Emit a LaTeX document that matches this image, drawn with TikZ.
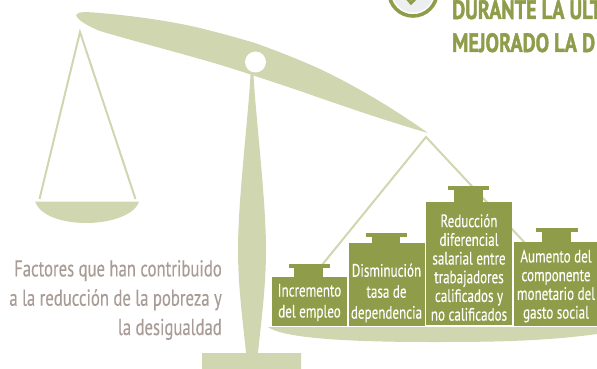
\documentclass[tikz,border=0pt]{standalone}
\usepackage{fontspec}
\setmainfont{PT Sans}
\newfontfamily\cond[FakeStretch=0.725,FakeBold=0.25]{PT Sans}
\newfontfamily\condb[FakeStretch=0.76,FakeBold=1.5]{PT Sans Bold}
\definecolor{pale}{HTML}{CFD6B0}
\definecolor{olive}{HTML}{8F9C4A}
\definecolor{greybrown}{HTML}{A99C96}
\definecolor{icon}{HTML}{ECEEEF}
\tikzset{
  pale shape/.style={fill=pale,draw=none},
  weight/.style={fill=olive,draw=none},
  cord/.style={draw=pale,line width=2pt},
  wlabel/.style={text=white,font=\cond\fontsize{18}{18.7}\selectfont,align=center,inner sep=0pt},
  wlabelwide/.style={wlabel,font=\cond\fontsize{18}{21}\selectfont},
  side/.style={text=greybrown,font=\cond\fontsize{23}{29.3}\selectfont,align=right,inner sep=0pt},
  head/.style={text=olive,font=\condb\fontsize{26.5}{32}\selectfont,anchor=base west,inner sep=0pt}
}
\begin{document}
\begin{tikzpicture}[x=1pt,y=-1pt]
\useasboundingbox (0,0) rectangle (597,369);
\clip (0,0) rectangle (597,369);
% icon
\draw[olive,line width=3.6pt] (413,-8) circle (24);
\fill[icon] (413,-8) circle (20.5);
\draw[olive,line width=3pt] (405,-4) -- (411,3) -- (420,-6);
% heading
\node[head] (h1) at (452,19) {DURANTE LA ULT};
\node[head] (h2) at (452,52) {MEJORADO LA D};
% coordinates
\coordinate (la) at (80,32);
\coordinate (ll) at (39.5,199);
\coordinate (lr) at (135.5,199);
\coordinate (ra) at (426,137);
\coordinate (rl) at (322,265);
\coordinate (rr) at (525,243);
% cords
\draw[cord] (ll) -- (la) -- (lr);
\draw[cord] (rl) -- (ra) -- (rr);
% post
\path[pale shape] (250.5,75) -- (253.5,75) .. controls (256,120) and (266,200) .. (266,250)
  .. controls (266,290) and (260,330) .. (258,353) -- (301,353) -- (301,369) -- (202,369) -- (202,353) -- (246,353)
  .. controls (244,330) and (238,290) .. (238,250) .. controls (238,200) and (248,120) .. (250.5,75) -- cycle;
% beam
\path[pale shape] (76,15) .. controls (78,11) and (88,12) .. (100,13)
  .. controls (135,16) and (170,21) .. (200,28)
  .. controls (220,33) and (238,38) .. (255,43)
  .. controls (280,52) and (300,60) .. (320,69)
  .. controls (360,88) and (400,113) .. (428,133)
  .. controls (390,122) and (355,110) .. (320,98)
  .. controls (298,90) and (276,83) .. (255,76)
  .. controls (237,70) and (218,64) .. (200,59)
  .. controls (165,49) and (130,40) .. (100,31)
  .. controls (90,27) and (78,21) .. (76,15) -- cycle;
\fill[white] (255.5,62) circle (10.5);
% pans
\path[pale shape] (35,201.5) -- (139,201.5) .. controls (135,215) and (110,223) .. (87,223)
  .. controls (60,223) and (40,215) .. (35,201.5) -- cycle;
\path[pale shape] (268,327) -- (597,327) -- (597,334) .. controls (540,342) and (480,342) .. (430,342)
  .. controls (370,342) and (285,340) .. (268,327) -- cycle;
% weights
\newcommand{\wgt}[9]{%
  \fill[weight] (#1,#5) rectangle (#2,#6);
  \fill[weight] (#3,#7) rectangle (#4,#5);
  \fill[weight] (#8,#7) rectangle (#9,#7+3.5);
}
\wgt{272}{347}{294}{323}{277}{326}{264}{289}{330}
\wgt{349}{425}{372}{400}{243}{326}{233}{366}{407}
\wgt{426}{512}{454}{483}{202}{325}{186}{448}{489}
\wgt{514}{597}{542}{571}{242}{326}{228}{536}{578}
\node[wlabelwide] (w1) at (309.5,302.5) {Incremento\\del empleo};
\node[wlabelwide] (w2) at (386.5,293) {Disminución\\tasa de\\dependencia};
\node[wlabel] (w3) at (469,267.5) {Reducción\\diferencial\\salarial entre\\trabajadores\\calificados y\\no calificados};
\node[wlabel] (w4) at (556,286) {Aumento del\\componente\\monetario del\\gasto social};
\node[side,anchor=east] (t) at (222,300) {Factores que han contribuido\\a la reducción de la pobreza y\\la desigualdad};
\end{tikzpicture}
\end{document}
